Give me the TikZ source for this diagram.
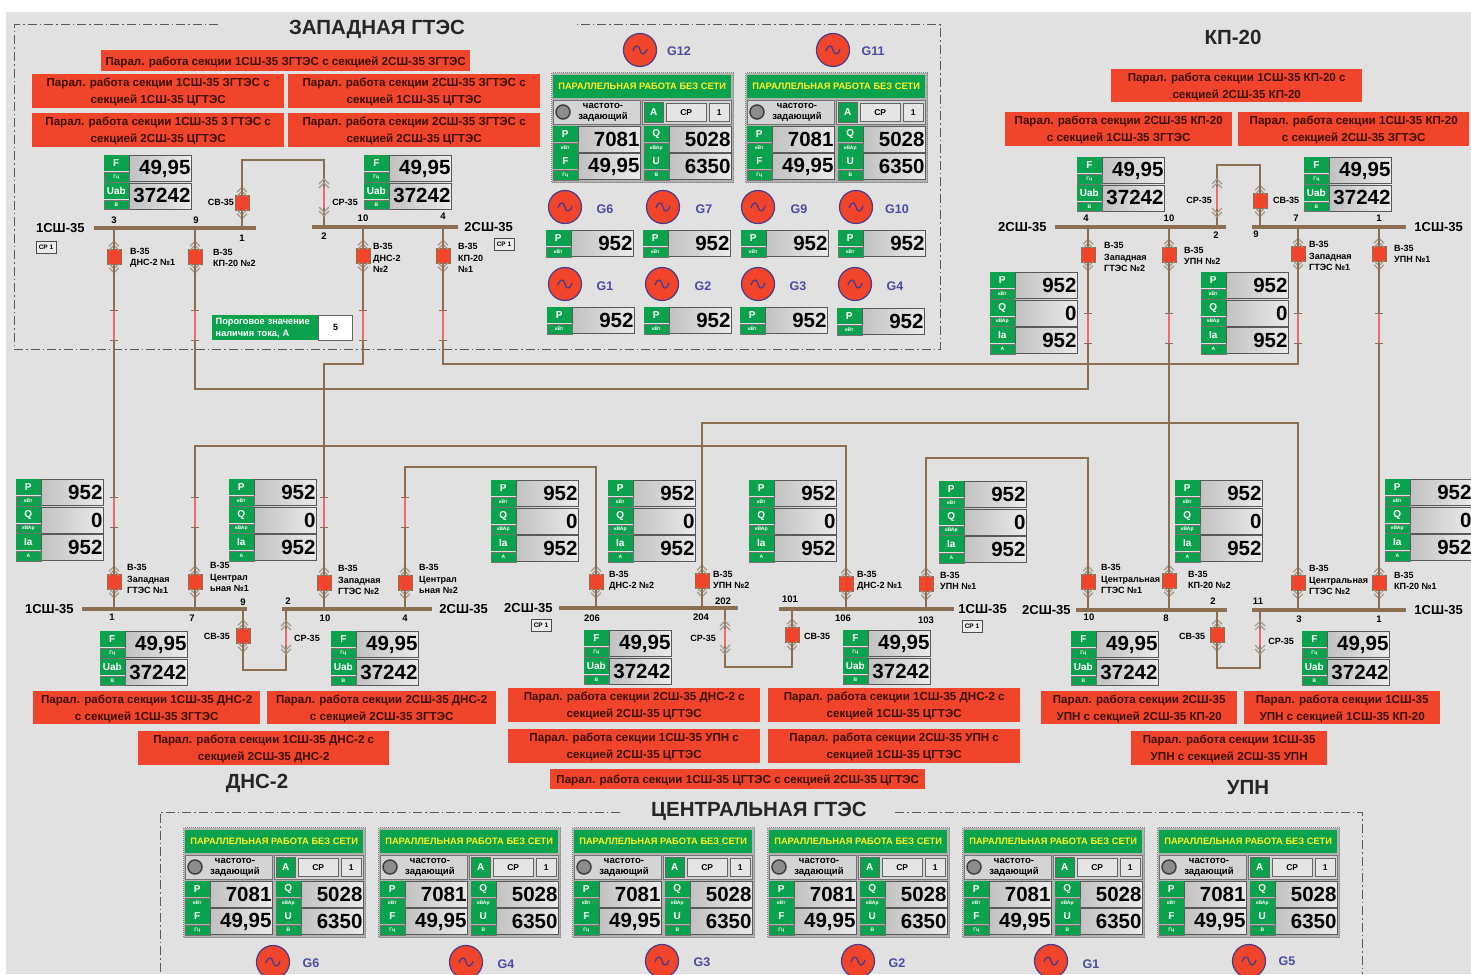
\documentclass[tikz,border=0pt]{standalone}
\usepackage{fontspec}
\setmainfont{Liberation Sans}
\usetikzlibrary{positioning}
\definecolor{panelgray}{HTML}{E1E1E1}
\definecolor{alarmred}{HTML}{F0452A}
\definecolor{alarmtext}{HTML}{3E100A}
\definecolor{tilegreen}{HTML}{0BA24D}
\definecolor{wirebrown}{HTML}{8B6F50}
\definecolor{genring}{HTML}{4A3A8A}
\definecolor{genblue}{HTML}{4A4AA0}
\definecolor{hotred}{HTML}{EC6A70}

% one reading: green tile + grey value box
\newcommand{\meter}[6]{%
  \node[valbox, anchor=north west] (#1) at (#2+25,#3) {#6};
  \node[tiletop, anchor=north east] (#1l) at (#1.north west) {#4};
  \node[tilebot, anchor=south east] (#1u) at (#1.south west) {#5};}
% P, Q, Ia stack
\newcommand{\tripl}[3]{%
  \meter{#1p}{#2}{#3}{P}{кВт}{952}
  \meter{#1q}{#2}{#3+27.5}{Q}{кВАр}{0}
  \meter{#1i}{#2}{#3+55}{Ia}{А}{952}}
% F, Uab stack
\newcommand{\fustack}[3]{%
  \meter{#1f}{#2}{#3}{F}{Гц}{49,95}
  \meter{#1v}{#2}{#3+27.5}{Uab}{В}{37242}}
% generator unit panel
\newcommand{\panel}[3]{%
  \node[panelbg, anchor=north west] (#1) at (#2,#3) {};
  \node[panelbar, anchor=north west] (#1bar) at (#2+2,#3+3) {ПАРАЛЛЕЛЬНАЯ РАБОТА БЕЗ СЕТИ};
  \node[modebox, anchor=north west] (#1mode) at (#2+2,#3+28) {};
  \node[knob] (#1knob) at (#2+12,#3+40) {};
  \node[modetxt] (#1txt) at (#2+52,#3+40) {частото-\\задающий};
  \node[modebox, minimum width=89pt, anchor=north west] (#1sel) at (#2+91,#3+28) {};
  \node[aflag, anchor=north west] (#1a) at (#2+93,#3+30) {А};
  \node[selbox, minimum width=40pt, anchor=north west] (#1cp) at (#2+115,#3+31) {СР};
  \node[selbox, minimum width=20pt, anchor=north west] (#1one) at (#2+158,#3+31) {1};
  \meter{#1p}{#2+2}{#3+54}{P}{кВт}{7081}
  \meter{#1q}{#2+93}{#3+54}{Q}{кВАр}{5028}
  \meter{#1f}{#2+2}{#3+81}{F}{Гц}{49,95}
  \meter{#1u}{#2+93}{#3+81}{U}{В}{6350}}
% generator symbol
\newcommand{\gen}[6]{%
  \node[gensym] (#1) at (#2,#3) {};
  \draw[genwave] (#2-7,#3+1) .. controls (#2-5,#3-6) and (#2-1,#3-5) .. (#2,#3) .. controls (#2+1,#3+5) and (#2+5,#3+6) .. (#2+7,#3-1);
  \node[genlab] (#1t) at (#5,#6) {#4};}
% breaker with its text
\newcommand{\breaker}[6]{%
  \node[brk] (#1) at (#2,#3) {};
  \pic at (#1.north) {chevup};
  \pic at (#1.south) {chevdown};
  \node[swlabel, anchor=west] (#1t) at (#4,#5) {#6};}
% section tie: name, sv x, sv y, sr x, bend y, sr y near bend, sr y near bus, sv bus, sr bus
\newcommand{\tie}[9]{%
  \node[brk] (#1sv) at (#2,#3) {};
  \pic at (#1sv.north) {chevup};
  \pic at (#1sv.south) {chevdown};
  \coordinate (#1n) at (#4,#6);
  \coordinate (#1f) at (#4,#7);
  \coordinate (#1c) at (#4,#5);
  \draw[feed] (#8 -| #1sv) -- (#1sv);
  \draw[feed] (#1sv) |- (#1c) -- (#1n);
  \draw[feed] (#1f) -- (#9 -| #1f);
  \draw[hot] (#1n) -- (#1f);
  \pic at (#4,{min(#6,#7)}) {chevup};
  \pic at (#4,{max(#6,#7)}) {chevdown};}

\begin{document}
\begin{tikzpicture}[x=1pt,y=-1pt,
    alarm/.style={fill=alarmred, inner sep=0pt, align=center, text=alarmtext, anchor=north west, text depth=0pt, font=\fontsize{11.6}{17}\selectfont\bfseries},
    valbox/.style={draw=black!65, line width=0.9pt, left color=black!24, right color=black!8, minimum width=62pt, minimum height=26pt, text width=60pt, inner xsep=1pt, inner ysep=0pt, align=right, font=\fontsize{20.5}{21}\selectfont\bfseries},
    tiletop/.style={fill=tilegreen, text=white, minimum width=25pt, minimum height=16pt, inner sep=0pt, font=\fontsize{10}{10}\selectfont\bfseries},
    tilebot/.style={fill=tilegreen, draw=black!55, line width=0.3pt, text=white, minimum width=25pt, minimum height=9.5pt, inner sep=0pt, font=\fontsize{5}{5}\selectfont\bfseries},
    panelbg/.style={draw=black!50, densely dotted, line width=1pt, fill=black!30, minimum width=182pt, minimum height=110pt},
    panelbar/.style={fill=tilegreen, text=yellow!85!white, minimum width=178pt, minimum height=23pt, inner sep=0pt, font=\fontsize{9.3}{9.5}\selectfont\bfseries},
    modebox/.style={draw=black!55, fill=black!17, minimum width=87pt, minimum height=24pt, inner sep=0pt},
    knob/.style={circle, draw=black!75, fill=black!45, line width=1.5pt, minimum size=14pt, inner sep=0pt},
    modetxt/.style={align=center, inner sep=0pt, font=\fontsize{9.6}{11}\selectfont\bfseries},
    aflag/.style={fill=tilegreen, draw=black!60, text=white, minimum width=19pt, minimum height=20pt, inner sep=0pt, font=\fontsize{10}{10}\selectfont\bfseries},
    selbox/.style={draw=black!60, fill=black!10, minimum height=18pt, inner sep=0pt, font=\fontsize{8.5}{9}\selectfont\bfseries},
    gensym/.style={circle, draw=genring, line width=1.2pt, fill=alarmred, minimum size=33pt, inner sep=0pt},
    genwave/.style={draw=genring, line width=1.3pt},
    genlab/.style={text=genblue, inner sep=0pt, font=\fontsize{12.5}{13}\selectfont\bfseries},
    brk/.style={fill=alarmred, draw=wirebrown, line width=0.5pt, minimum width=14pt, minimum height=15pt, inner sep=0pt},
    swlabel/.style={align=left, inner sep=0pt, font=\fontsize{9}{11.3}\selectfont\bfseries},
    busbar/.style={fill=wirebrown, minimum height=3.6pt, inner sep=0pt},
    buslabel/.style={inner sep=0pt, font=\fontsize{13}{13}\selectfont\bfseries},
    numlab/.style={inner sep=0pt, font=\fontsize{9.5}{10}\selectfont\bfseries},
    smalllab/.style={inner sep=0pt, font=\fontsize{9}{9}\selectfont\bfseries},
    cpbox/.style={draw=black!70, fill=black!8, minimum width=20pt, minimum height=12pt, inner sep=0pt, font=\fontsize{6.5}{7}\selectfont\bfseries},
    sitetitle/.style={inner sep=0pt, text height=14.5pt, text depth=0pt, font=\fontsize{20.5}{20}\selectfont\bfseries, text=black!85},
    feed/.style={draw=wirebrown, line width=1.1pt},
    hot/.style={draw=hotred, line width=1.1pt},
    tick/.style={draw=wirebrown, line width=0.9pt},
    chevline/.style={draw=wirebrown!75!black!60, line width=1.1pt},
    framedash/.style={draw=black!65, line width=1pt, dash pattern=on 9pt off 3pt on 1.5pt off 3pt},
    chevup/.pic={\draw[chevline] (-5,-3) -- (0,-8) -- (5,-3) (-5,1) -- (0,-4) -- (5,1);},
    chevdown/.pic={\draw[chevline] (-5,3) -- (0,8) -- (5,3) (-5,-1) -- (0,4) -- (5,-1);}
  ]
  \useasboundingbox (0,0) rectangle (1471,974);
  \clip (0,0) rectangle (1471,974);
  \fill[white] (0,0) rectangle (1471,974);
  \fill[panelgray] (6,12) rectangle (1471,974);

  % station frames
  \draw[framedash] (218,25) -- (14,25) -- (14,349) -- (940,349) -- (940,25) -- (577,25);
  \draw[framedash] (620,812) -- (160,812) -- (160,974);
  \draw[framedash] (895,812) -- (1362,812) -- (1362,974);

  % titles
  \node[sitetitle] (twest) at (377,27) {ЗАПАДНАЯ ГТЭС};
  \node[sitetitle] (tkp) at (1233,37) {КП-20};
  \node[sitetitle] (tdns) at (257,781) {ДНС-2};
  \node[sitetitle] (tupn) at (1248,787) {УПН};
  \node[sitetitle] (tcen) at (759,809) {ЦЕНТРАЛЬНАЯ ГТЭС};

  % alarm banners
  \node[alarm, minimum width=369pt, minimum height=21pt] (a1) at (101,50) {Парал. работа секции 1СШ-35 ЗГТЭС с секцией 2СШ-35 ЗГТЭС};
  \node[alarm, minimum width=252pt, minimum height=34pt] (a2) at (32,74) {Парал. работа секции 1СШ-35 ЗГТЭС с\\секцией 1СШ-35 ЦГТЭС};
  \node[alarm, minimum width=252pt, minimum height=34pt] (a3) at (288,74) {Парал. работа секции 2СШ-35 ЗГТЭС с\\секцией 1СШ-35 ЦГТЭС};
  \node[alarm, minimum width=252pt, minimum height=34pt] (a4) at (32,113) {Парал. работа секции 1СШ-35 3 ГТЭС с\\секцией 2СШ-35 ЦГТЭС};
  \node[alarm, minimum width=252pt, minimum height=34pt] (a5) at (288,113) {Парал. работа секции 2СШ-35 ЗГТЭС с\\секцией 2СШ-35 ЦГТЭС};
  \node[alarm, minimum width=251pt, minimum height=33pt] (a6) at (1111,69) {Парал. работа секции 1СШ-35 КП-20 с\\секцией 2СШ-35 КП-20};
  \node[alarm, minimum width=227pt, minimum height=34pt] (a7) at (1005,112) {Парал. работа секции 2СШ-35 КП-20\\с секцией 1СШ-35 ЗГТЭС};
  \node[alarm, minimum width=231pt, minimum height=34pt] (a8) at (1238,112) {Парал. работа секции 1СШ-35 КП-20\\с секцией 2СШ-35 ЗГТЭС};
  \node[alarm, minimum width=227pt, minimum height=33pt] (a9) at (33,691) {Парал. работа секции 1СШ-35 ДНС-2\\с секцией 1СШ-35 ЗГТЭС};
  \node[alarm, minimum width=229pt, minimum height=33pt] (a10) at (267,691) {Парал. работа секции 2СШ-35 ДНС-2\\с секцией 2СШ-35 ЗГТЭС};
  \node[alarm, minimum width=251pt, minimum height=34pt] (a11) at (138,731) {Парал. работа секции 1СШ-35 ДНС-2 с\\секцией 2СШ-35 ДНС-2};
  \node[alarm, minimum width=252pt, minimum height=34pt] (a12) at (508,688) {Парал. работа секции 2СШ-35 ДНС-2 с\\секцией 2СШ-35 ЦГТЭС};
  \node[alarm, minimum width=252pt, minimum height=34pt] (a13) at (768,688) {Парал. работа секции 1СШ-35 ДНС-2 с\\секцией 1СШ-35 ЦГТЭС};
  \node[alarm, minimum width=252pt, minimum height=34pt] (a14) at (508,729) {Парал. работа секции 1СШ-35 УПН с\\секцией 2СШ-35 ЦГТЭС};
  \node[alarm, minimum width=252pt, minimum height=34pt] (a15) at (768,729) {Парал. работа секции 2СШ-35 УПН с\\секцией 1СШ-35 ЦГТЭС};
  \node[alarm, minimum width=375pt, minimum height=20pt] (a16) at (550,769) {Парал. работа секции 1СШ-35 ЦГТЭС с секцией 2СШ-35 ЦГТЭС};
  \node[alarm, minimum width=196pt, minimum height=33pt] (a17) at (1041,691) {Парал. работа секции 2СШ-35\\УПН с секцией 2СШ-35 КП-20};
  \node[alarm, minimum width=196pt, minimum height=33pt] (a18) at (1244,691) {Парал. работа секции 1СШ-35\\УПН с секцией 1СШ-35 КП-20};
  \node[alarm, minimum width=196pt, minimum height=34pt] (a19) at (1131,731) {Парал. работа секции 1СШ-35\\УПН с секцией 2СШ-35 УПН};

  % bus sections
  \node[busbar, minimum width=162pt] (wbus1) at (175,228) {};
  \node[busbar, minimum width=146pt] (wbus2) at (385,227) {};
  \node[busbar, minimum width=171pt] (kbus2) at (1140.5,227) {};
  \node[busbar, minimum width=154pt] (kbus1) at (1329,227) {};
  \node[busbar, minimum width=165pt] (dbus1) at (164.5,609) {};
  \node[busbar, minimum width=150pt] (dbus2) at (357,609) {};
  \node[busbar, minimum width=179pt] (mbus2) at (648.5,608) {};
  \node[busbar, minimum width=175pt] (mbus1) at (866.5,609) {};
  \node[busbar, minimum width=151pt] (ubus2) at (1151.5,610) {};
  \node[busbar, minimum width=154pt] (ubus1) at (1329,610) {};
  \node[buslabel, left=9pt of wbus1] (lw1) {1СШ-35};
  \node[buslabel, right=6pt of wbus2] (lw2) {2СШ-35};
  \node[buslabel, left=8pt of kbus2] (lk2) {2СШ-35};
  \node[buslabel, right=8pt of kbus1] (lk1) {1СШ-35};
  \node[buslabel, left=8pt of dbus1] (ld1) {1СШ-35};
  \node[buslabel, right=7pt of dbus2] (ld2) {2СШ-35};
  \node[buslabel, left=6pt of mbus2] (lm2) {2СШ-35};
  \node[buslabel, right=4pt of mbus1] (lm1) {1СШ-35};
  \node[buslabel, left=5pt of ubus2] (lu2) {2СШ-35};
  \node[buslabel, right=8pt of ubus1] (lu1) {1СШ-35};

  % breakers
  \breaker{wk1}{114}{257}{130}{258}{В-35\\ДНС-2 №1}
  \breaker{wk2}{195}{257}{213}{258}{В-35\\КП-20 №2}
  \breaker{wk3}{363}{256}{373}{258}{В-35\\ДНС-2\\№2}
  \breaker{wk4}{443}{256}{458}{258}{В-35\\КП-20\\№1}
  \breaker{kk1}{1088}{255}{1104}{257}{В-35\\Западная\\ГТЭС №2}
  \breaker{kk2}{1169}{255}{1184}{256}{В-35\\УПН №2}
  \breaker{kk3}{1298}{254}{1309}{256}{В-35\\Западная\\ГТЭС №1}
  \breaker{kk4}{1379}{254}{1394}{254}{В-35\\УПН №1}
  \breaker{dk1}{114}{582}{127}{579}{В-35\\Западная\\ГТЭС №1}
  \breaker{dk2}{195}{582}{210}{577}{В-35\\Централ\\ьная №1}
  \breaker{dk3}{324}{583}{338}{580}{В-35\\Западная\\ГТЭС №2}
  \breaker{dk4}{405}{583}{419}{579}{В-35\\Централ\\ьная №2}
  \breaker{mk1}{596}{582}{609}{581}{В-35\\ДНС-2 №2}
  \breaker{mk2}{702}{581}{713}{580}{В-35\\УПН №2}
  \breaker{mk3}{846}{584}{857}{581}{В-35\\ДНС-2 №1}
  \breaker{mk4}{926}{584}{940}{581}{В-35\\УПН №1}
  \breaker{uk1}{1088}{582}{1101}{579}{В-35\\Центральная\\ГТЭС №1}
  \breaker{uk2}{1169}{581}{1188}{580}{В-35\\КП-20 №2}
  \breaker{uk3}{1298}{583}{1309}{580}{В-35\\Центральная\\ГТЭС №2}
  \breaker{uk4}{1379}{583}{1394}{581}{В-35\\КП-20 №1}

  % stubs from breakers to their bus
  \foreach \k/\b in {wk1/wbus1,wk2/wbus1,wk3/wbus2,wk4/wbus2,kk1/kbus2,kk2/kbus2,kk3/kbus1,kk4/kbus1,
      dk1/dbus1,dk2/dbus1,dk3/dbus2,dk4/dbus2,mk1/mbus2,mk2/mbus2,mk3/mbus1,mk4/mbus1,
      uk1/ubus2,uk2/ubus2,uk3/ubus1,uk4/ubus1}
    \draw[feed] (\k) -- (\k |- \b);

  % section ties
  \tie{wt}{242}{203}{324}{160}{187}{208}{wbus1}{wbus2}
  \tie{kt}{1260}{201}{1217}{165}{187}{209}{kbus1}{kbus2}
  \tie{dt}{243}{636}{286}{670}{646}{629}{dbus1}{dbus2}
  \tie{mt}{792}{635}{725}{667}{646}{629}{mbus1}{mbus2}
  \tie{ut}{1217}{635}{1260}{668}{646}{629}{ubus2}{ubus1}

  % long feeders between stations
  \coordinate (raila) at (0,389);
  \coordinate (railb) at (0,364);
  \coordinate (railc) at (0,446);
  \coordinate (raild) at (0,467);
  \coordinate (raile) at (0,423);
  \coordinate (railf) at (0,458);
  \draw[feed] (wk1) -- (dk1);
  \draw[feed] (kk2) -- (uk2);
  \draw[feed] (kk4) -- (uk4);
  \draw[feed] (wk2) |- (raila -| kk1) -- (kk1);
  \draw[feed] (wk3) |- (railb -| dk3) -- (dk3);
  \draw[feed] (wk4) |- (railb -| kk3) -- (kk3);
  \draw[feed] (dk2) |- (railc -| mk3) -- (mk3);
  \draw[feed] (dk4) |- (raild -| mk1) -- (mk1);
  \draw[feed] (mk2) |- (raile -| uk3) -- (uk3);
  \draw[feed] (mk4) |- (railf -| uk1) -- (uk1);

  % current marks on feeders
  \foreach \x/\ya/\yb in {114/310/340,195/310/340,363/310/340,443/310/340,
      1088/313/343,1169/313/343,1298/313/343,1379/313/343,
      114/497/527,195/497/527,324/497/527,405/497/527} {
    \draw[hot] (\x,\ya) -- (\x,\yb);
    \draw[tick] (\x-4,\ya) -- (\x+4,\ya) (\x-4,\yb) -- (\x+4,\yb);
  }

  % readings
  \fustack{wm1}{104}{155}
  \fustack{wm2}{364}{155}
  \fustack{km1}{1077}{157}
  \fustack{km2}{1304}{157}
  \fustack{dm1}{100}{631}
  \fustack{dm2}{331}{631}
  \fustack{mm1}{584}{630}
  \fustack{mm2}{843}{630}
  \fustack{um1}{1071}{631}
  \fustack{um2}{1302}{631}
  \tripl{kr1}{990}{272}
  \tripl{kr2}{1201}{272}
  \tripl{dr1}{16}{479}
  \tripl{dr2}{229}{479}
  \tripl{mr1}{491}{480}
  \tripl{mr2}{608}{480}
  \tripl{mr3}{749}{480}
  \tripl{mr4}{939}{481}
  \tripl{ur1}{1175}{480}
  \tripl{ur2}{1385}{479}

  % terminal numbers
  \foreach \x/\y/\t [count=\i] in {114/220/3,196/220/9,242/238/1,324/236/2,363/218/10,443/216/4,
      1086/218/4,1169/218/10,1216/235/2,1256/234/9,1296/218/7,1379/218/1,
      112/617/1,192/618/7,243/602/9,288/601/2,325/618/10,405/618/4,
      592/618/206,701/617/204,723/601/202,790/599/101,843/618/106,926/620/103,
      1089/617/10,1166/618/8,1213/601/2,1258/601/11,1299/619/3,1379/619/1}
    \node[numlab] (num\i) at (\x,\y) {\t};

  % tie labels
  \foreach \x/\y/\t [count=\i] in {221/202/СВ-35,345/202/СР-35,1199/200/СР-35,1286/200/СВ-35,
      217/636/СВ-35,307/638/СР-35,703/638/СР-35,817/636/СВ-35,1192/636/СВ-35,1281/641/СР-35}
    \node[smalllab] (tl\i) at (\x,\y) {\t};

  % mode tags
  \foreach \x/\y [count=\i] in {46/247,504/244,541/625,972/626}
    \node[cpbox] (cp\i) at (\x,\y) {СР 1};

  % current threshold
  \node[fill=tilegreen, text=white, minimum width=106pt, minimum height=25pt, inner sep=0pt, text width=99pt, anchor=north west, align=left, font=\fontsize{9.2}{12}\selectfont\bfseries] (thr) at (212,315) {Пороговое значение\\наличия тока, А};
  \node[draw=black!60, fill=white, minimum width=34pt, minimum height=25pt, inner sep=0pt, right=0pt of thr, font=\fontsize{9}{9}\selectfont\bfseries] (thrv) {5};

  % west station generators
  \gen{g12}{640}{50}{G12}{679}{51}
  \gen{g11}{833}{50}{G11}{873}{51}
  \panel{wp1}{551}{72}
  \panel{wp2}{745}{72}
  \gen{g6}{565}{207}{G6}{605}{209}
  \gen{g7}{663}{207}{G7}{704}{209}
  \gen{g9}{758}{207}{G9}{799}{209}
  \gen{g10}{856}{207}{G10}{897}{209}
  \gen{g1}{565}{284}{G1}{605}{286}
  \gen{g2}{662}{284}{G2}{703}{286}
  \gen{g3}{758}{284}{G3}{798}{286}
  \gen{g4}{855}{284}{G4}{895}{286}
  \foreach \x/\y [count=\i] in {546/230,643/230,741/230,838/230,547/307,644/307,740/307,837/308} {
    \meter{gp\i}{\x}{\y}{P}{кВт}{952}
  }

  % central station
  \foreach \x [count=\i] in {183,378,572,767,962,1157} {
    \panel{cp\i p}{\x}{827}
  }
  \gen{c6}{273}{962}{G6}{311}{963}
  \gen{c4}{466}{962}{G4}{506}{964}
  \gen{c3}{662}{961}{G3}{702}{962}
  \gen{c2}{858}{961}{G2}{897}{963}
  \gen{c1}{1051}{961}{G1}{1091}{964}
  \gen{c5}{1249}{961}{G5}{1287}{961}
\end{tikzpicture}
\end{document}
